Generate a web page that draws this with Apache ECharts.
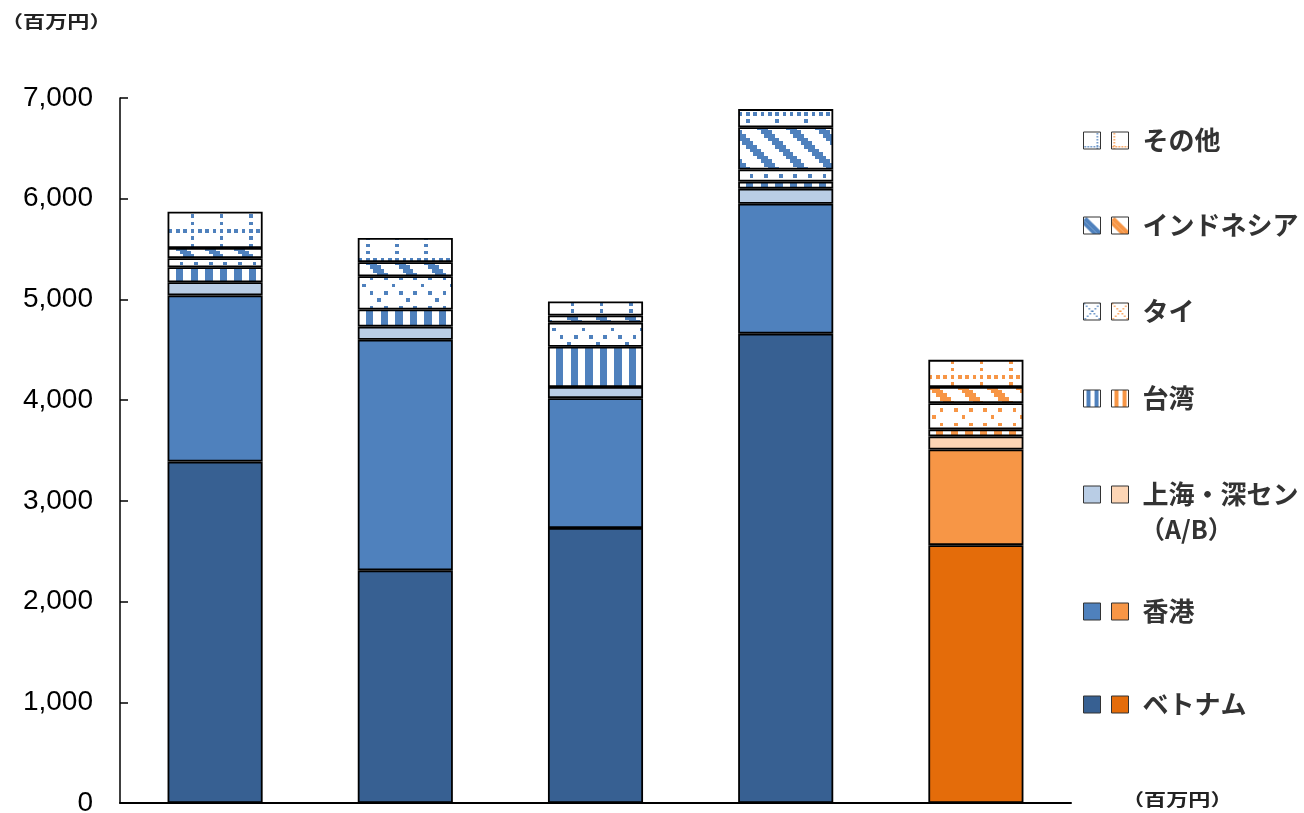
<!DOCTYPE html>
<html><head><meta charset="utf-8">
<script src="https://cdn.jsdelivr.net/npm/echarts@6/dist/echarts.min.js"></script>
<style>html,body{margin:0;padding:0;background:#fff}#c{width:1304px;height:813px}</style>
</head><body><div id="c"></div>
<script>
// ---------- data ----------
const categories = ['1', '2', '3', '4', '5'];
const seriesNames = ['ベトナム', '香港', '上海・深セン', '台湾', 'タイ', 'インドネシア', 'その他'];
const vietnam   = [3390, 2310, 2730, 4660, 2560];
const hongkong  = [1650, 2290, 1290, 1290, 950];
const shanghai  = [130, 130, 110, 150, 130];
const taiwan    = [150, 170, 400, 70, 70];
const thai      = [90, 330, 240, 120, 260];
const indonesia = [100, 140, 70, 420, 160];
const others    = [360, 240, 140, 180, 270];
const orangeIndex = 4;
const yMin = 0, yMax = 7000, yInterval = 1000;
const unitLabel = '（百万円）';
const shanghaiSub = '（A/B）';

const values = [vietnam, hongkong, shanghai, taiwan, thai, indonesia, others];

// ---------- patterns (8x8 bitmaps, scaled) ----------
const U = 380 / 104, X0 = 0.6, Y0 = 24.3;
const bmTaiwan = ['11001100','11001100','11001100','11001100','11001100','11001100','11001100','11001100'];
const bmThai = ['00000000','01000100','00000000','00000001','00000000','01000100','00000000','00010000'];
const bmIndo = ['00011100','00001110','00000111','10000011','11000001','11100000','01110000','00111000'];
const bmOther = ['10101010','00000000','00001000','00000000','00001000','00000000','00001000','00000000'];
function tile(bm, fg) {
  const c = document.createElement('canvas'); c.width = 380; c.height = 380;
  const ctx = c.getContext('2d');
  ctx.fillStyle = '#fff'; ctx.fillRect(0, 0, 380, 380);
  ctx.fillStyle = fg;
  for (let j = -10; j <= 110; j++) {
    const y1 = Math.round(Y0 + j * U), y2 = Math.round(Y0 + (j + 1) * U);
    if (y2 <= 0 || y1 >= 380) continue;
    const r = ((j % 8) + 8) % 8;
    for (let i = -10; i <= 110; i++) {
      const x1 = Math.round(X0 + i * U), x2 = Math.round(X0 + (i + 1) * U);
      if (x2 <= 0 || x1 >= 380) continue;
      const col = ((i % 8) + 8) % 8;
      if (bm[r][col] === '1') ctx.fillRect(x1, y1, x2 - x1, y2 - y1);
    }
  }
  return { image: c, repeat: 'repeat' };
}
// small swatch fills for the legend icons (17x17)
function swatch(kind, fg, variant) {
  const c = document.createElement('canvas'); c.width = 17; c.height = 17;
  const ctx = c.getContext('2d');
  ctx.fillStyle = '#fff'; ctx.fillRect(0, 0, 17, 17);
  ctx.fillStyle = fg; ctx.strokeStyle = fg;
  if (kind === 'stripe') {
    ctx.fillRect(3, 0, 4, 17); ctx.fillRect(11, 0, 4, 17);
  } else if (kind === 'band') {
    ctx.beginPath(); ctx.moveTo(0, 3); ctx.lineTo(3, 0); ctx.lineTo(17, 14); ctx.lineTo(17, 17);
    ctx.lineTo(14, 17); ctx.lineTo(0, 3); ctx.fill();
    ctx.beginPath(); ctx.moveTo(0, 3); ctx.lineTo(0, 8); ctx.lineTo(9, 17); ctx.lineTo(14, 17); ctx.fill();
  } else if (kind === 'cross') {
    for (let k = 0; k < 17; k += 2.5) {
      ctx.fillRect(k, k, 1.5, 1.5); ctx.fillRect(16 - k, k, 1.5, 1.5);
    }
  } else if (kind === 'dots') {
    const vx = variant ? 2 : 13;
    for (let k = 1; k < 17; k += 3) { ctx.fillRect(vx, k, 1.5, 1.5); ctx.fillRect(k, 14, 1.5, 1.5); }
  }
  return { image: c, repeat: 'repeat' };
}
const blueFills = ['#376092', '#4F81BD', '#B9CDE5',
  tile(bmTaiwan, '#4F81BD'), tile(bmThai, '#4F81BD'), tile(bmIndo, '#4F81BD'), tile(bmOther, '#4F81BD')];
const orangeFills = ['#E46C0A', '#F79646', '#FCD5B5',
  tile(bmTaiwan, '#F79646'), tile(bmThai, '#F79646'), tile(bmIndo, '#F79646'), tile(bmOther, '#F79646')];
const blueSwatch = ['#376092', '#4F81BD', '#B9CDE5',
  swatch('stripe', '#4F81BD'), swatch('cross', '#4F81BD'), swatch('band', '#4F81BD'), swatch('dots', '#4F81BD', 0)];
const orangeSwatch = ['#E46C0A', '#F79646', '#FCD5B5',
  swatch('stripe', '#F79646'), swatch('cross', '#F79646'), swatch('band', '#F79646'), swatch('dots', '#F79646', 1)];

// ---------- series ----------
const series = [];
const legends = [];
const legendCY = [704, 611, 494, 398, 311, 225, 140];
const jp = 'Noto Sans CJK JP';
seriesNames.forEach((name, k) => {
  const vals = values[k];
  series.push({
    name: name + '_b', type: 'bar', stack: 'total', barWidth: '50%',
    data: vals.map((v, i) => i === orangeIndex ? '-' : v),
    itemStyle: { color: blueFills[k], borderColor: '#000', borderWidth: 1.8 },
    emphasis: { disabled: true }
  });
  series.push({
    name: name, type: 'bar', stack: 'total', barWidth: '50%',
    data: vals.map((v, i) => i === orangeIndex ? v : '-'),
    itemStyle: { color: orangeFills[k], borderColor: '#000', borderWidth: 1.8 },
    emphasis: { disabled: true }
  });
  const common = {
    orient: 'horizontal', padding: 0, itemWidth: 17, itemHeight: 17, icon: 'rect',
    selectedMode: false
  };
  legends.push(Object.assign({}, common, {
    top: legendCY[k] - 8.5,
    data: [{ name: name + '_b', itemStyle: { color: blueSwatch[k], borderColor: '#333', borderWidth: 1 } }],
    left: 1083, formatter: () => '',
    textStyle: { fontSize: 12, lineHeight: 17 }
  }));
  legends.push(Object.assign({}, common, {
    top: legendCY[k] - 8.5 - 4,
    data: [{ name: name, itemStyle: { color: orangeSwatch[k], borderColor: '#333', borderWidth: 1 } }],
    left: 1111, formatter: (n) => n,
    textStyle: { fontFamily: jp, fontWeight: 'bold', fontSize: 26, color: '#333', lineHeight: 17, padding: [0, 0, 8, 9] }
  }));
});

const chart = echarts.init(document.getElementById('c'), null, { renderer: 'canvas' });
chart.setOption({
  animation: false,
  backgroundColor: '#fff',
  grid: { left: 120, right: 233, top: 98, bottom: 10, containLabel: false, outerBoundsMode: 'none' },
  xAxis: {
    type: 'category', data: categories,
    axisLine: { show: true, lineStyle: { color: '#000', width: 2 } },
    axisTick: { show: false }, axisLabel: { show: false }, splitLine: { show: false }
  },
  yAxis: {
    type: 'value', min: yMin, max: yMax, interval: yInterval,
    axisLine: { show: true, lineStyle: { color: '#000', width: 1.5 } },
    axisTick: { show: true, inside: true, length: 8, lineStyle: { color: '#000', width: 1.5 } },
    splitLine: { show: false },
    axisLabel: {
      margin: 27, color: '#000', fontSize: 28, fontFamily: 'Liberation Sans, Arial, sans-serif',
      formatter: (v) => v.toLocaleString('en-US')
    }
  },
  legend: legends,
  series: series,
  graphic: [
    { type: 'text', x: 1, y: 22, scaleX: 1.3,
      style: { text: unitLabel, font: 'bold 17px "Noto Sans CJK JP"', fill: '#222', verticalAlign: 'middle' } },
    { type: 'text', x: 1122, y: 800, scaleX: 1.3,
      style: { text: unitLabel, font: 'bold 17px "Noto Sans CJK JP"', fill: '#222', verticalAlign: 'middle' } },
    { type: 'text', x: 1140, y: 529,
      style: { text: shanghaiSub, font: 'bold 25px "Noto Sans CJK JP"', fill: '#333', verticalAlign: 'middle' } }
  ]
});
</script></body></html>
